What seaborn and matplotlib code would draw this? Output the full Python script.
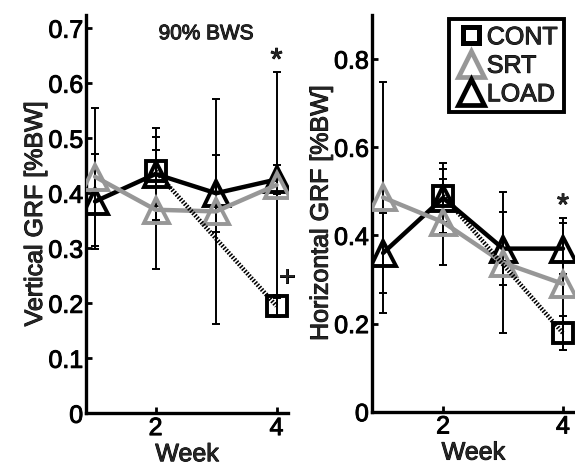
import numpy as np
import pandas as pd
import matplotlib
matplotlib.use('Agg')
import matplotlib.pyplot as plt
import matplotlib.patheffects as pe
import seaborn as sns
from matplotlib.lines import Line2D

sns.set_style('ticks')
plt.rcParams['font.family'] = ['Liberation Sans', 'DejaVu Sans']

weeks = [1, 2, 3, 4]
cont_weeks = [2, 4]

# Vertical GRF
v_cont = [0.44, 0.195]
v_cont_err = [0.063, 0.02]
v_srt = [0.43, 0.37, 0.367, 0.415]
v_srt_err = [0.125, 0.108, 0.205, 0.205]
v_load = [0.385, 0.435, 0.40, 0.425]
v_load_err = [0.086, 0.083, 0.07, 0.027]

# Horizontal GRF
h_cont = [0.49, 0.178]
h_cont_err = [0.06, 0.038]
h_srt = [0.486, 0.43, 0.338, 0.29]
h_srt_err = [0.262, 0.097, 0.16, 0.15]
h_load = [0.36, 0.485, 0.37, 0.37]
h_load_err = [0.09, 0.08, 0.082, 0.058]

v_yticks = [0, 0.1, 0.2, 0.3, 0.4, 0.5, 0.6, 0.7]
v_yticklabels = ['0', '0.1', '0.2', '0.3', '0.4', '0.5', '0.6', '0.7']
h_yticks = [0, 0.2, 0.4, 0.6, 0.8]
h_yticklabels = ['0', '0.2', '0.4', '0.6', '0.8']
xticks = [2, 4]
xticklabels = ['2', '4']
labels = ['CONT', 'SRT', 'LOAD']

GRAY = '#979797'
FS = 18
LW = 3.2
MS = 18
MEW = 2.8

fig = plt.figure(figsize=(5.75, 4.66), dpi=100)
axL = fig.add_axes([86/575, (466-413.3)/466, (288-86)/575, (413.3-15)/466])
axR = fig.add_axes([371.7/575, (466-411.7)/466, (575-371.7)/575, (411.7-15)/466])


def draw(ax, cont, cont_err, srt, srt_err, load, load_err):
    ekw = dict(fmt='none', ecolor='black', elinewidth=1.4, capsize=3, capthick=1.4, zorder=2)
    ax.errorbar(weeks, load, yerr=load_err, **ekw)
    ax.errorbar(weeks, srt, yerr=srt_err, **ekw)
    ax.errorbar(cont_weeks, cont, yerr=cont_err, **ekw)
    df_load = pd.DataFrame({'week': weeks, 'val': load})
    df_srt = pd.DataFrame({'week': weeks, 'val': srt})
    df_cont = pd.DataFrame({'week': cont_weeks, 'val': cont})
    sns.lineplot(data=df_load, x='week', y='val', ax=ax, color='black',
                 linewidth=LW, marker='^', markersize=MS, markeredgewidth=MEW,
                 markerfacecolor='none', markeredgecolor='black', zorder=3)
    sns.lineplot(data=df_srt, x='week', y='val', ax=ax, color=GRAY,
                 linewidth=LW, marker='^', markersize=MS, markeredgewidth=MEW,
                 markerfacecolor='none', markeredgecolor=GRAY, zorder=4)
    sns.lineplot(data=df_cont, x='week', y='val', ax=ax, color='black',
                 linewidth=LW, linestyle=(0, (0.35, 0.35)), marker='s', markersize=14,
                 markeredgewidth=MEW, markerfacecolor='none',
                 markeredgecolor='black', zorder=5)
    for s in ['top', 'right']:
        ax.spines[s].set_visible(False)
    for s in ['left', 'bottom']:
        ax.spines[s].set_linewidth(2.4)
        ax.spines[s].set_color('black')
    ax.set_xticks(xticks)
    ax.set_xticklabels(xticklabels)
    ax.tick_params(direction='in', length=4, width=2, labelsize=FS, pad=2,
                   colors='black')
    ax.set_xlabel('Week', fontsize=FS, labelpad=1.5)
    ax.set_facecolor('white')


draw(axL, v_cont, v_cont_err, v_srt, v_srt_err, v_load, v_load_err)
axL.set_xlim(0.85, 4.19)
axL.set_ylim(0, 0.724)
axL.set_yticks(v_yticks)
axL.set_yticklabels(v_yticklabels)
axL.set_ylabel('Vertical GRF [%BW]', fontsize=FS, labelpad=1)
axL.text(2.84, 0.69, '90% BWS', fontsize=15, ha='center', va='center')
axL.text(4.0, 0.64, '*', fontsize=22, ha='center', va='center')
axL.text(4.17, 0.246, '+', fontsize=20, ha='center', va='center')

draw(axR, h_cont, h_cont_err, h_srt, h_srt_err, h_load, h_load_err)
axR.set_xlim(0.81, 4.2)
axR.set_ylim(0, 0.9)
axR.set_yticks(h_yticks)
axR.set_yticklabels(h_yticklabels)
axR.set_ylabel('Horizontal GRF [%BW]', fontsize=FS, labelpad=1)
axR.text(4.0, 0.465, '*', fontsize=22, ha='center', va='center')

handles = [
    Line2D([], [], linestyle='none', marker='s', markersize=12, markeredgewidth=3.6,
           markerfacecolor='none', markeredgecolor='black'),
    Line2D([], [], linestyle='none', marker='^', markersize=19, markeredgewidth=3.4,
           markerfacecolor='none', markeredgecolor=GRAY),
    Line2D([], [], linestyle='none', marker='^', markersize=19, markeredgewidth=3.4,
           markerfacecolor='none', markeredgecolor='black'),
]
leg = axR.legend(handles, labels, loc='upper right', bbox_to_anchor=(0.945, 0.99),
                 borderaxespad=0, fontsize=FS, frameon=True, fancybox=False,
                 handlelength=1.2, handletextpad=0.05, labelspacing=0.18,
                 borderpad=0.25, edgecolor='black', framealpha=1)
leg.get_frame().set_linewidth(2.8)

stroke = [pe.withStroke(linewidth=0.7, foreground='black')]
for t in fig.findobj(matplotlib.text.Text):
    if t.get_text():
        t.set_path_effects(stroke)

fig.savefig('out.png', dpi=100)
